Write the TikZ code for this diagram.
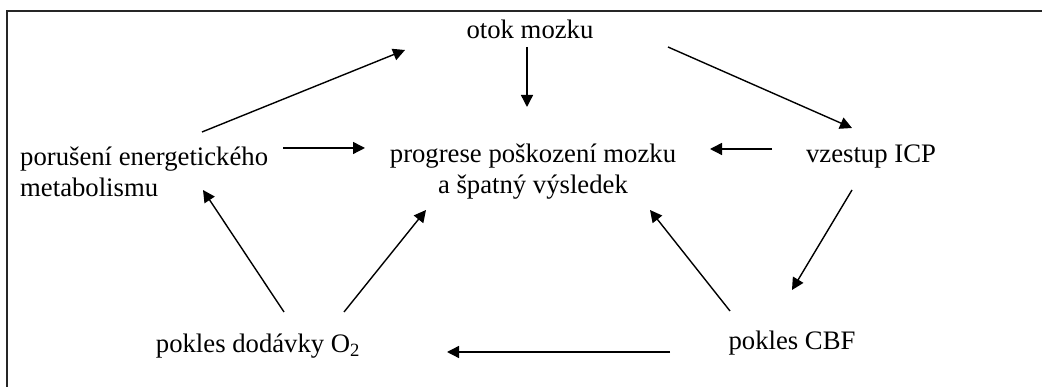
\documentclass[tikz,border=0pt]{standalone}
\usepackage{fontspec}
\setmainfont{Liberation Serif}
\usetikzlibrary{arrows.meta}
\begin{document}
\begin{tikzpicture}[x=1pt,y=1pt,
  lbl/.style={inner sep=0pt, font=\fontsize{26.7}{31}\selectfont},
  arr/.style={line width=1.4pt, -{Triangle[length=12pt,width=12pt]}},
  frame/.style={line width=1.6pt, black!85}]
\useasboundingbox (0,0) rectangle (1042,387);
% open frame: top and left edges only
\draw[frame] (1042,376) -- (7,376) -- (7,0);

% statements of the cycle
\node[lbl, anchor=base] (otok) at (530,348) {otok mozku};
\node[lbl, align=center] (prog) at (533,215) {progrese poškození mozku\\a špatný výsledek};
\node[lbl, align=left, anchor=west] (por) at (20,215) {porušení energetického\\metabolismu};
\node[lbl, anchor=base] (vze) at (871,224) {vzestup ICP};
\node[lbl, anchor=base] (cbf) at (792,37) {pokles CBF};
\node[lbl, anchor=base] (o2) at (258,34) {pokles dodávky O\textsubscript{2}};

% causal links
\draw[arr] ([shift={(-3,-8)}]otok.base) -- ([shift={(-6,65)}]prog.center);
\draw[arr] ([shift={(182,40)}]por.west) -- ([shift={(-125,-11)}]otok.base);
\draw[arr] ([shift={(263,24)}]por.west) -- ([shift={(-168,24)}]prog.center);
\draw[arr] ([shift={(-99,14)}]vze.base) -- ([shift={(177,23)}]prog.center);
\draw[arr] ([shift={(138,-8)}]otok.base) -- ([shift={(-19,35)}]vze.base);
\draw[arr] ([shift={(-19,-27)}]vze.base) -- ([shift={(0,60)}]cbf.base);
\draw[arr] ([shift={(-62,39)}]cbf.base) -- ([shift={(117,-38)}]prog.center);
\draw[arr] ([shift={(-122,-2)}]cbf.base) -- ([shift={(189,1)}]o2.base);
\draw[arr] ([shift={(26,41)}]o2.base) -- ([shift={(183,-18)}]por.west);
\draw[arr] ([shift={(86,41)}]o2.base) -- ([shift={(-107,-38)}]prog.center);
\end{tikzpicture}
\end{document}
